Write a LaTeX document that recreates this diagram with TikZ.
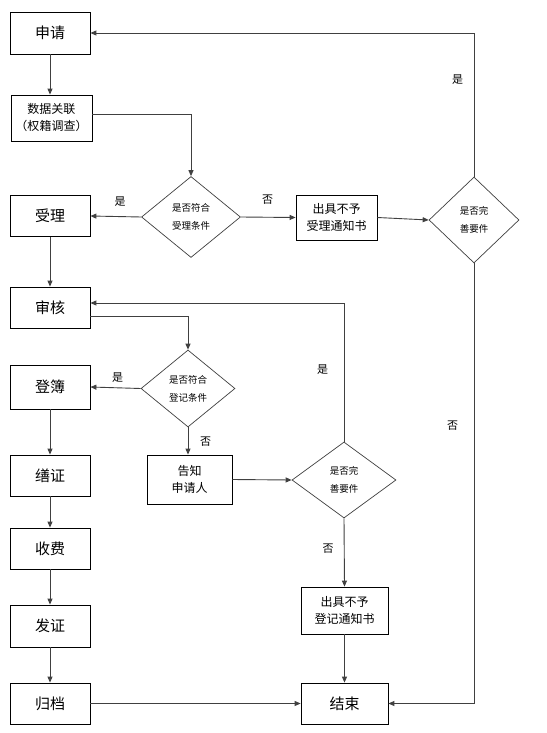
\documentclass[tikz,border=0pt]{standalone}
\usepackage{fontspec}
\setmainfont{Noto Sans CJK SC}
\usetikzlibrary{shapes.geometric,arrows.meta}
\begin{document}
\begin{tikzpicture}[x=1pt,y=-1pt,
  box/.style={draw=black,line width=0.8pt,rectangle,inner sep=0pt,align=center,font=\fontsize{15}{18}\selectfont},
  sbox/.style={box,font=\fontsize{12}{17}\selectfont},
  dec/.style={draw=black!75,line width=0.7pt,diamond,inner sep=0pt,align=center,font=\fontsize{9.5}{18}\selectfont},
  lab/.style={inner sep=0pt,font=\fontsize{11}{13}\selectfont},
  conn/.style={draw=black!75,line width=0.9pt,-{Triangle[length=6pt,width=5pt]}}]
\useasboundingbox[fill=white] (0,0) rectangle (546,733);
% left column
\node[box,minimum width=80pt,minimum height=42pt] (sq) at (50,33) {申请};
\node[sbox,minimum width=81pt,minimum height=46pt] (sj) at (51.5,118) {数据关联\\（权籍调查）};
\node[box,minimum width=80pt,minimum height=41pt] (sl) at (50,216) {受理};
\node[box,minimum width=80pt,minimum height=41pt] (sh) at (50,307.5) {审核};
\node[box,minimum width=80pt,minimum height=44pt] (db) at (50,387) {登簿};
\node[box,minimum width=80pt,minimum height=41pt] (sz) at (50,475.5) {缮证};
\node[box,minimum width=80pt,minimum height=41pt] (sf) at (50,548.5) {收费};
\node[box,minimum width=80pt,minimum height=42pt] (fz) at (50,626) {发证};
\node[box,minimum width=80pt,minimum height=41pt] (gd) at (50,703.5) {归档};
% decisions
\node[dec,minimum width=99pt,minimum height=81pt] (d1) at (191,217) {是否符合\\受理条件};
\node[dec,minimum width=90pt,minimum height=86pt] (d2) at (474,220) {是否完\\善要件};
\node[dec,minimum width=94pt,minimum height=77pt] (d3) at (188,388.5) {是否符合\\登记条件};
\node[dec,minimum width=104pt,minimum height=76pt] (d4) at (344,480) {是否完\\善要件};
% other boxes
\node[sbox,minimum width=81pt,minimum height=45pt] (bs) at (336.5,217.5) {出具不予\\受理通知书};
\node[sbox,minimum width=85pt,minimum height=49pt] (gz) at (189.5,479.5) {告知\\申请人};
\node[sbox,minimum width=87pt,minimum height=47pt] (bd) at (344.5,610.5) {出具不予\\登记通知书};
\node[box,minimum width=87pt,minimum height=41pt] (js) at (344.5,703.5) {结束};
% labels
\node[lab] (l1) at (120,202) {是};
\node[lab] (l2) at (267.5,200) {否};
\node[lab] (l3) at (457.5,80) {是};
\node[lab] (l4) at (117.5,377.5) {是};
\node[lab] (l5) at (205.5,441.5) {否};
\node[lab] (l6) at (322.5,370) {是};
\node[lab] (l7) at (452.5,426) {否};
\node[lab] (l8) at (328,549) {否};
% connectors
\draw[conn] (sq.south) -- (sq.south |- sj.north);
\draw[conn] ([yshift=4pt]sj.east) -| (d1.north);
\draw[conn] (d1.west) -- (sl.east);
\draw[conn] (d1.east) -- (bs.west);
\draw[conn] (bs.east) -- (d2.west);
\draw[conn] (d2.north) |- (sq.east);
\draw[conn] (sl.south) -- (sh.north);
\draw[conn] ([yshift=-8.5pt]sh.east) -| (d3.north);
\draw[conn] (d3.west) -- (db.east);
\draw[conn] (d3.south) -- (d3.south |- gz.north);
\draw[conn] (gz.east) -- (d4.west);
\draw[conn] (d4.north) |- ([yshift=4.5pt]sh.east);
\draw[conn] (d4.south) -- (bd.north);
\draw[conn] (bd.south) -- (js.north);
\draw[conn] (db.south) -- (sz.north);
\draw[conn] (sz.south) -- (sf.north);
\draw[conn] (sf.south) -- (fz.north);
\draw[conn] (fz.south) -- (gd.north);
\draw[conn] (gd.east) -- (js.west);
\draw[conn] (d2.south) |- (js.east);
\end{tikzpicture}
\end{document}
